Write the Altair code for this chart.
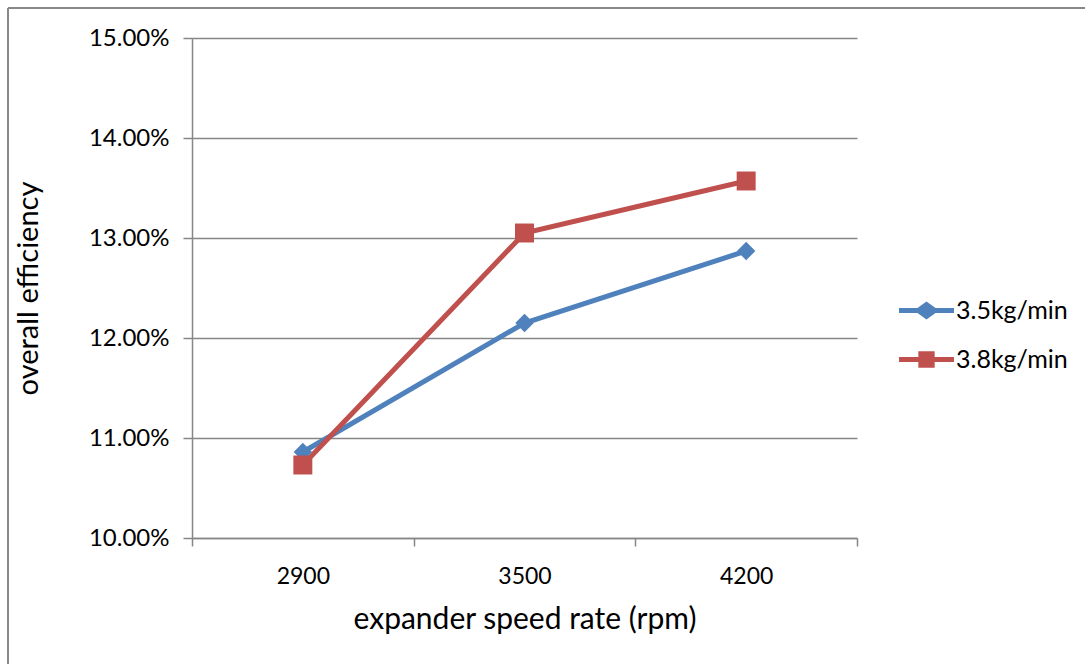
import altair as alt
import pandas as pd

speeds = ["2900", "3500", "4200"]
eff_35 = [0.1086, 0.1215, 0.1287]
eff_38 = [0.1073, 0.1305, 0.1357]
series_names = ["3.5kg/min", "3.8kg/min"]
series_colors = ["#4F81BD", "#C0504D"]
y_ticks = [0.10, 0.11, 0.12, 0.13, 0.14, 0.15]

rows = []
for s, vals in zip(series_names, [eff_35, eff_38]):
    for sp, v in zip(speeds, vals):
        rows.append({"speed": sp, "eff": v, "series": s})
df = pd.DataFrame(rows)

FONT = "Lato"
GRID = "#868686"

x_enc = alt.X("speed:N", sort=speeds,
              scale=alt.Scale(type="band", paddingInner=0, paddingOuter=0),
              axis=alt.Axis(title="expander speed rate (rpm)", labelAngle=0,
                            tickBand="extent", grid=False, tickSize=8,
                            labelPadding=19, titlePadding=16,
                            labelFontSize=23, titleFontSize=30,
                            titleFontWeight="normal"))
y_enc = alt.Y("eff:Q",
              scale=alt.Scale(domain=[0.10, 0.15], nice=False, zero=False),
              axis=alt.Axis(title="overall efficiency", format=".2%",
                            values=y_ticks, grid=True, tickSize=9,
                            labelPadding=14, titlePadding=45,
                            labelFontSize=24, titleFontSize=29,
                            titleFontWeight="normal"))

base = alt.Chart(df)

color_ind = alt.Color("series:N", legend=None,
                      scale=alt.Scale(domain=series_names, range=series_colors))

lines = base.mark_line(strokeWidth=5).encode(x=x_enc, y=y_enc, color=color_ind)

pts_blue = base.transform_filter(alt.datum.series == series_names[0]).mark_point(
    shape="diamond", filled=True, size=340, opacity=1).encode(x=x_enc, y=y_enc, color=color_ind)
pts_red = base.transform_filter(alt.datum.series == series_names[1]).mark_point(
    shape="square", filled=True, size=360, opacity=1).encode(x=x_enc, y=y_enc, color=color_ind)

diamond_path = ("M-3.2,-0.29 L-1.05,-0.29 L0,-1.05 L1.05,-0.29 L3.2,-0.29 "
                "L3.2,0.29 L1.05,0.29 L0,1.05 L-1.05,0.29 L-3.2,0.29 Z")
square_path = ("M-3.2,-0.29 L-0.95,-0.29 L-0.95,-0.95 L0.95,-0.95 L0.95,-0.29 "
               "L3.2,-0.29 L3.2,0.29 L0.95,0.29 L0.95,0.95 L-0.95,0.95 "
               "L-0.95,0.29 L-3.2,0.29 Z")

leg = alt.Legend(title=None, orient="none", legendX=722, legendY=260,
                 symbolSize=295, labelOffset=17, labelFontSize=25,
                 rowPadding=23, padding=0, symbolOpacity=1)

legend_layer = base.transform_filter("false").mark_point(
    filled=True, size=295, opacity=1).encode(
    x=x_enc, y=y_enc,
    color=alt.Color("series:N",
                    scale=alt.Scale(domain=series_names, range=series_colors),
                    legend=leg),
    shape=alt.Shape("series:N",
                    scale=alt.Scale(domain=series_names,
                                    range=[diamond_path, square_path]),
                    legend=leg),
)

one = alt.Chart(pd.DataFrame({"k": [0]}))
border_top = one.mark_rule(color="#888888", strokeWidth=2).encode(
    x=alt.value(-184), x2=alt.value(893), y=alt.value(-30))
border_left = one.mark_rule(color="#888888", strokeWidth=2).encode(
    x=alt.value(-184), y=alt.value(-30), y2=alt.value(626))

chart = alt.layer(border_top, border_left, lines, pts_blue, pts_red, legend_layer).resolve_scale(
    color="independent", shape="independent"
).properties(
    width=665, height=500,
    autosize=alt.AutoSizeParams(type="none"),
    padding={"left": 192, "top": 38, "right": 228, "bottom": 126},
).configure_view(stroke=None).configure_axis(
    labelFont=FONT, titleFont=FONT, labelColor="black", titleColor="black",
    domainColor=GRID, tickColor=GRID, gridColor=GRID, domainWidth=1.5,
    tickWidth=1.5, gridWidth=1.5,
).configure_legend(labelFont=FONT, labelColor="black")

chart.save("out.html", embed_options={"renderer": "svg", "actions": False})
